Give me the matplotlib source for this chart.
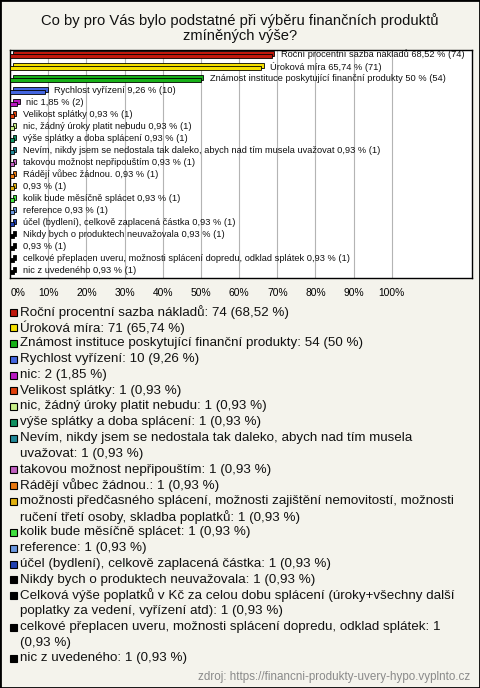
"""
Co by pro Vás bylo podstatné při výběru finančních produktů - horizontal bar chart
"""

import textwrap
import matplotlib
matplotlib.use("Agg")
import matplotlib.pyplot as plt
from matplotlib.patches import Rectangle
from matplotlib.transforms import ScaledTranslation

title = "Co by pro Vás bylo podstatné při výběru finančních produktů\nzmíněných výše?"

names = [
    "Roční procentní sazba nákladů",
    "Úroková míra",
    "Známost instituce poskytující finanční produkty",
    "Rychlost vyřízení",
    "nic",
    "Velikost splátky",
    "nic, žádný úroky platit nebudu",
    "výše splátky a doba splácení",
    "Nevím, nikdy jsem se nedostala tak daleko, abych nad tím musela uvažovat",
    "takovou možnost nepřipouštím",
    "Rádějí vůbec žádnou.",
    "možnosti předčasného splácení, možnosti zajištění nemovitostí, možnosti ručení třetí osoby, skladba poplatků",
    "kolik bude měsíčně splácet",
    "reference",
    "účel (bydlení), celkově zaplacená částka",
    "Nikdy bych o produktech neuvažovala",
    "Celková výše poplatků v Kč za celou dobu splácení (úroky+všechny další poplatky za vedení, vyřízení atd)",
    "celkové přeplacen uveru, možnosti splácení dopredu, odklad splátek",
    "nic z uvedeného",
]
counts = [74, 71, 54, 10, 2, 1, 1, 1, 1, 1, 1, 1, 1, 1, 1, 1, 1, 1, 1]
percents = [68.52, 65.74, 50, 9.26, 1.85, 0.93, 0.93, 0.93, 0.93, 0.93,
            0.93, 0.93, 0.93, 0.93, 0.93, 0.93, 0.93, 0.93, 0.93]
colors = ["#c0180c", "#f5e000", "#18b018", "#4466e0", "#b818c0", "#e0400c",
          "#c8f088", "#109060", "#208898", "#c060c0", "#e87810", "#e0b010",
          "#40e040", "#6a98e0", "#2040b0", "#000000", "#000000", "#000000",
          "#000000"]
xticks = [0, 10, 20, 30, 40, 50, 60, 70, 80, 90, 100]
source = "zdroj: https://financni-produkty-uvery-hypo.vyplnto.cz"

W, H = 480, 688
BG = "#f4f3ec"
plt.rcParams["font.family"] = ["Liberation Sans", "DejaVu Sans"]


def fmt(p):
    return f"{p:g}".replace(".", ",")


def fx(x):
    return x / W


def fy(y):
    return 1 - y / H


fig = plt.figure(figsize=(W / 100, H / 100), dpi=100, facecolor=BG)
fig.patches.append(Rectangle((0, 0), 1, 1, transform=fig.transFigure,
                             fill=False, edgecolor="black", lw=2))

fig.text(0.5, fy(28), title, ha="center", va="center", fontsize=10.6,
         linespacing=1.1, color="#111111")

# bar area
ax = fig.add_axes([fx(10), fy(278), fx(472) - fx(10), fy(50) - fy(278)])
ax.set_facecolor("white")
ax.set_xlim(0, 121)
ax.set_ylim(len(names) - 0.5, -0.5)
for t in xticks:
    ax.axvline(t, color="#b4b4b4", lw=0.8, zorder=0)
ax.set_xticks(xticks)
ax.set_xticklabels([f"{t}%" for t in xticks], fontsize=7.4)
ax.tick_params(axis="x", length=0, pad=7)
ax.get_xticklabels()[0].set_transform(
    ax.get_xticklabels()[0].get_transform()
    + ScaledTranslation(0.08, 0, fig.dpi_scale_trans))
ax.set_yticks([])
for s in ax.spines.values():
    s.set_color("black")
    s.set_linewidth(1)

ypos = list(range(len(names)))
depth = ax.transData + ScaledTranslation(0.025, 0.025, fig.dpi_scale_trans)
ax.barh(ypos, percents, height=0.37, color=colors, edgecolor="black",
        lw=0.6, transform=depth, zorder=2)
ax.barh(ypos, percents, height=0.37, color=colors, edgecolor="black",
        lw=0.6, zorder=3)

for i, (n, c, p) in enumerate(zip(names, counts, percents)):
    label = n + " " if len(n) < 80 else ""
    ax.annotate(f"{label}{fmt(p)} % ({c})", (p, i), xytext=(6.5, 1),
                textcoords="offset points", va="center", ha="left",
                fontsize=6.7, color="#111111", zorder=4)

# legend below
y = 312
step = 15.75
for n, c, p, col in zip(names, counts, percents, colors):
    lines = textwrap.wrap(f"{n}: {c} ({fmt(p)} %)", 72)
    fig.patches.append(Rectangle((fx(10), fy(y + 3.5)), fx(7), 7 / H,
                                 transform=fig.transFigure, facecolor=col,
                                 edgecolor="black", lw=0.8))
    for line in lines:
        fig.text(fx(20), fy(y), line, ha="left", va="center", fontsize=9.6,
                 color="#111111")
        y += step

fig.text(fx(470), fy(677), source, ha="right", va="center", fontsize=8.4,
         color="#8a8a8a")

fig.savefig("out.png", dpi=100, facecolor=BG)
